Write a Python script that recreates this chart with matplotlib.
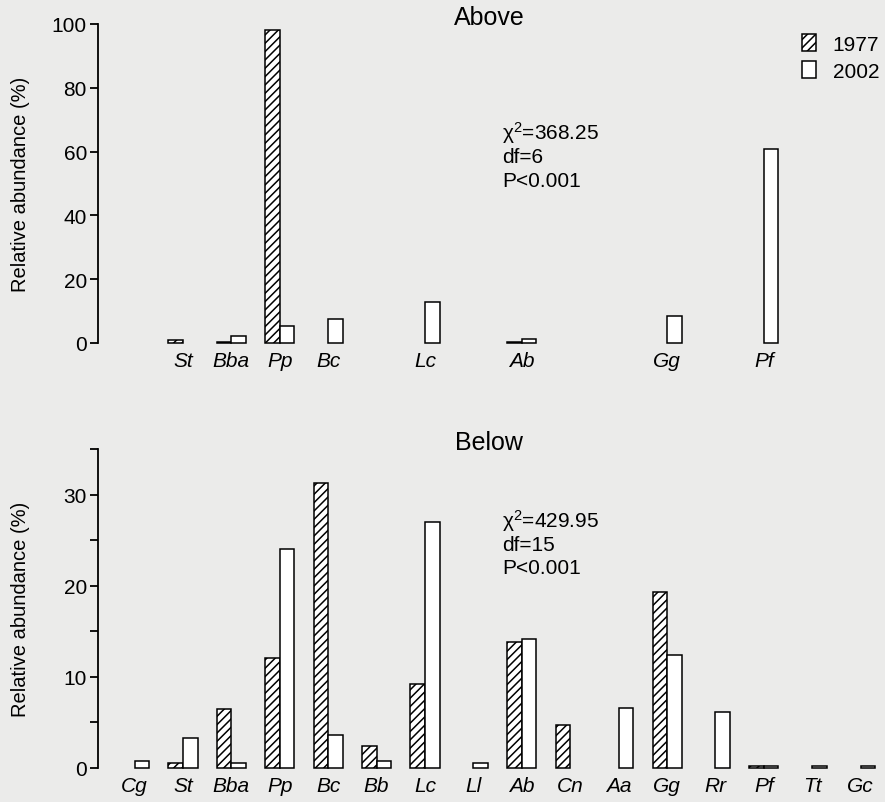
import numpy as np
import matplotlib
matplotlib.use("Agg")
import matplotlib.pyplot as plt
from matplotlib.patches import Patch

plt.rcParams['font.family'] = ['Liberation Sans', 'DejaVu Sans']
plt.rcParams['hatch.linewidth'] = 1.1
plt.rcParams['mathtext.fontset'] = 'custom'
plt.rcParams['mathtext.rm'] = 'Liberation Sans'
plt.rcParams['mathtext.it'] = 'Liberation Sans:italic'
plt.rcParams['mathtext.bf'] = 'Liberation Sans:bold'

# ---- data ----
cats_below = ['Cg', 'St', 'Bba', 'Pp', 'Bc', 'Bb', 'Lc', 'Ll', 'Ab', 'Cn',
              'Aa', 'Gg', 'Rr', 'Pf', 'Tt', 'Gc']
below_1977 = [0, 0.5, 6.5, 12.1, 31.3, 2.45, 9.2, 0, 13.8, 4.75, 0, 19.3, 0, 0.25, 0, 0]
below_2002 = [0.8, 3.3, 0.5, 24.0, 3.6, 0.8, 27.0, 0.5, 14.2, 0, 6.6, 12.4, 6.1, 0.25, 0.25, 0.25]

cats_above = ['St', 'Bba', 'Pp', 'Bc', 'Lc', 'Ab', 'Gg', 'Pf']
above_1977 = [1.0, 0.2, 98.1, 0, 0, 0.2, 0, 0]
above_2002 = [0, 2.2, 5.3, 7.5, 12.9, 1.2, 8.5, 60.8]

years = ['1977', '2002']
stats_above = ['χ$^{2}$=368.25', 'df=6', 'P<0.001']
stats_below = ['χ$^{2}$=429.95', 'df=15', 'P<0.001']

above_ticks = [0, 20, 40, 60, 80, 100]
below_ticks = [0, 5, 10, 15, 20, 25, 30, 35]
below_ticklabels = ['0', '', '10', '', '20', '', '30', '']

# ---- style ----
BG = '#ebebea'
W = 0.3
LW = 1.1
FS = 15

fig = plt.figure(figsize=(8.85, 8.03), dpi=100, facecolor=BG)
ax1 = fig.add_axes([98/885, 1-344/803, 782/885, 319/803])
ax2 = fig.add_axes([98/885, 1-769/803, 782/885, 319/803])


def draw(ax, cats, v1, v2, ymax, ticks, ticklabels, title, stats, ybases):
    x = np.array([cats_below.index(c) for c in cats], dtype=float)
    v1 = np.array(v1); v2 = np.array(v2)
    ax.bar(x, v1, width=-W, align='edge', facecolor='white', edgecolor='black',
           hatch='////', linewidth=[LW if v > 0 else 0 for v in v1], clip_on=False)
    ax.bar(x, v2, width=W, align='edge', facecolor='white', edgecolor='black',
           linewidth=[LW if v > 0 else 0 for v in v2], clip_on=False)
    ax.set_facecolor(BG)
    ax.set_xlim(-0.756, 15.4)
    ax.set_ylim(0, ymax)
    for s in ['top', 'right', 'bottom']:
        ax.spines[s].set_visible(False)
    ax.spines['left'].set_linewidth(1.3)
    ax.set_xticks(x)
    ax.set_xticklabels(cats, style='italic', fontsize=FS)
    ax.tick_params(axis='x', length=0, pad=6)
    ax.set_yticks(ticks)
    ax.set_yticklabels(ticklabels, fontsize=FS)
    ax.tick_params(axis='y', length=6, width=1.3, pad=2)
    ax.set_ylabel('Relative abundance (%)', fontsize=14.5)
    ax.yaxis.set_label_coords(-0.087, 0.5)
    ax.text(0.5, 1.0, title, transform=ax.transAxes, ha='center', va='baseline',
            fontsize=18)
    for s, yb in zip(stats, ybases):
        ax.text(0.5166, yb, s, transform=ax.transAxes, ha='left', va='baseline',
                fontsize=FS)


draw(ax1, cats_above, above_1977, above_2002, 100, above_ticks,
     [str(t) for t in above_ticks], 'Above', stats_above, [0.6395, 0.5674, 0.492])
draw(ax2, cats_below, below_1977, below_2002, 35, below_ticks,
     below_ticklabels, 'Below', stats_below, [0.7555, 0.683, 0.611])

handles = [Patch(facecolor='white', edgecolor='black', hatch='////', linewidth=LW),
           Patch(facecolor='white', edgecolor='black', linewidth=LW)]
fig.legend(handles, years, loc='upper right', bbox_to_anchor=(879/885, 1-35/803),
           bbox_transform=fig.transFigure, frameon=False, fontsize=FS,
           handlelength=0.67, handleheight=0.9, handletextpad=0.8,
           labelspacing=0.35, borderpad=0, borderaxespad=0)

fig.savefig('out.png', dpi=100, facecolor=BG)
